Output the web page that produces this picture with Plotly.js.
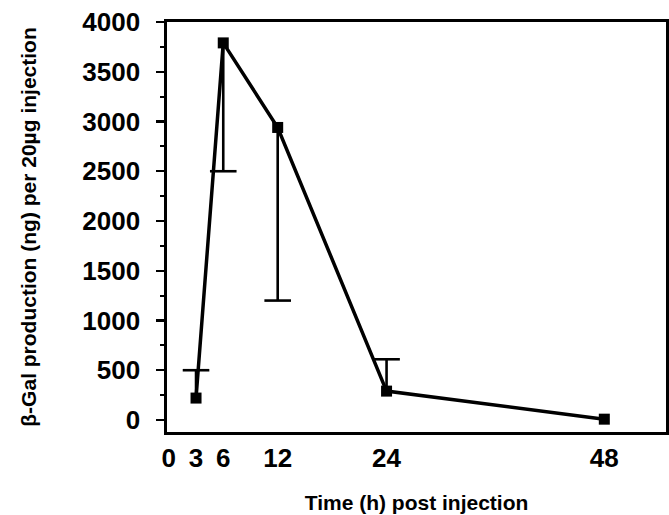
<!DOCTYPE html>
<html>
<head>
<meta charset="utf-8">
<script src="https://cdn.plot.ly/plotly-3.0.1.min.js"></script>
<style>html,body{margin:0;padding:0;background:#fff;}#chart{width:669px;height:515px;}</style>
</head>
<body>
<div id="chart"></div>
<script>
// Data
const timeHours = [3, 6, 12, 24, 48];
const production = [220, 3790, 2940, 290, 8];
const errPlus = [280, 0, 0, 320, 0];
const errMinus = [0, 1290, 1740, 0, 0];
const xTickVals = [0, 3, 6, 12, 24, 48];
const xTickText = ['0', '3', '6', '12', '24', '48'];

// Cap positions derived from the data arrays
const capX = [], capY = [];
timeHours.forEach((t, i) => {
  if (errPlus[i] > 0) { capX.push(t); capY.push(production[i] + errPlus[i]); }
  if (errMinus[i] > 0) { capX.push(t); capY.push(production[i] - errMinus[i]); }
});

const fontFam = '"Liberation Sans", Arial, Helvetica, sans-serif';

const traces = [
  {
    x: timeHours, y: production, type: 'scatter', mode: 'lines+markers',
    line: {color: '#000', width: 3.5},
    marker: {symbol: 'square', size: 11, color: '#000'},
    error_y: {type: 'data', symmetric: false, array: errPlus, arrayminus: errMinus,
              width: 0, thickness: 2.6, color: '#000'},
    hoverinfo: 'skip'
  },
  {
    x: capX, y: capY, type: 'scatter', mode: 'markers',
    marker: {symbol: 'line-ew', size: 19, color: '#000', line: {color: '#000', width: 2.6}},
    hoverinfo: 'skip'
  }
];

const layout = {
  width: 669, height: 515,
  margin: {l: 167, r: 3, t: 22, b: 83},
  paper_bgcolor: '#fff', plot_bgcolor: '#fff',
  showlegend: false,
  font: {family: fontFam, color: '#000', weight: 'bold'},
  xaxis: {
    range: [-0.2, 54.8],
    tickvals: xTickVals, ticktext: xTickText,
    ticks: '', showgrid: false, zeroline: false,
    showline: true, mirror: true, linecolor: '#000', linewidth: 2.6,
    tickfont: {family: fontFam, size: 26, color: '#000', weight: 'bold'},
    ticklabelstandoff: 1,
    title: {text: 'Time (h) post injection', font: {family: fontFam, size: 21, color: '#000', weight: 'bold'}, standoff: 24}
  },
  yaxis: {
    range: [-121, 4000],
    tickvals: [0, 500, 1000, 1500, 2000, 2500, 3000, 3500, 4000],
    ticks: 'outside', ticklen: 8, tickwidth: 2.4, tickcolor: '#000',
    minor: {tickvals: [250, 750, 1250, 1750, 2250, 2750, 3250, 3750], ticks: 'outside', ticklen: 4, tickwidth: 2.2, tickcolor: '#000', showgrid: false},
    showgrid: false, zeroline: false,
    showline: true, mirror: true, linecolor: '#000', linewidth: 2.6,
    tickfont: {family: fontFam, size: 26, color: '#000', weight: 'bold'},
    ticklabelstandoff: 11,
    title: {text: 'β-Gal production (ng) per 20µg injection', font: {family: fontFam, size: 21, color: '#000', weight: 'bold'}, standoff: 40}
  }
};

Plotly.newPlot('chart', traces, layout, {displayModeBar: false, staticPlot: true});
</script>
</body>
</html>
